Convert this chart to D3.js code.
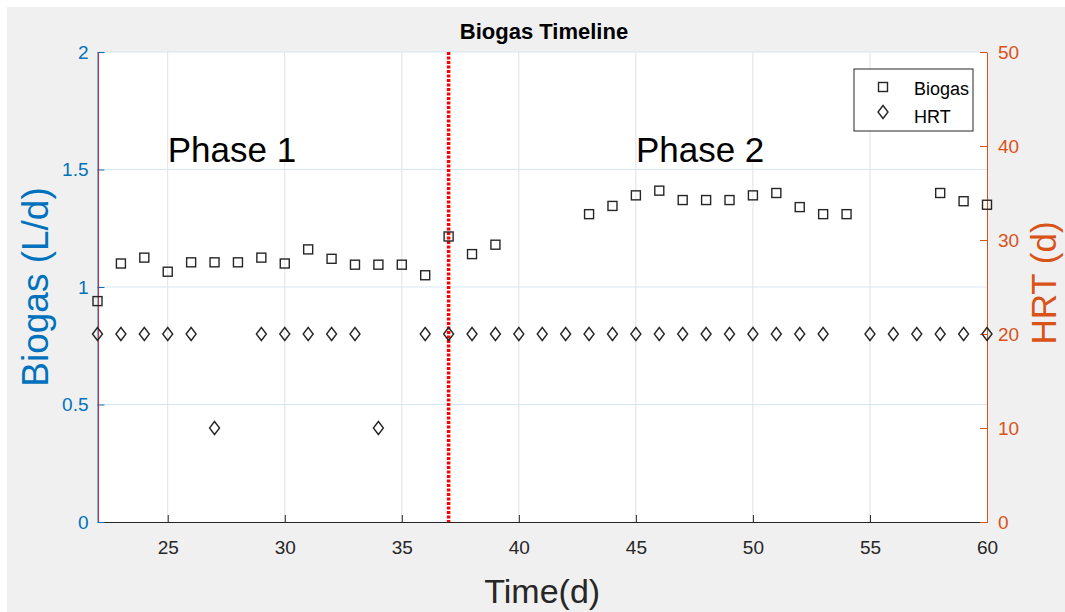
<!DOCTYPE html>
<html>
<head>
<meta charset="utf-8">
<script src="https://cdn.jsdelivr.net/npm/d3@7"></script>
<style>
  body { margin: 0; background: #ffffff; }
  svg text { font-family: "Liberation Sans", Arial, Helvetica, sans-serif; }
</style>
</head>
<body>
<svg id="chart" width="1065" height="612"></svg>
<script>
// days on the x axis
const days = d3.range(22, 61);

// biogas production (L/d), null where no measurement
const biogas = [0.94, 1.10, 1.125, 1.065, 1.105, 1.105, 1.105, 1.125, 1.10, 1.16,
  1.12, 1.095, 1.095, 1.095, 1.05, 1.215, 1.14, 1.18, null, null,
  null, 1.31, 1.345, 1.39, 1.41, 1.37, 1.37, 1.37, 1.39, 1.40,
  1.34, 1.31, 1.31, null, null, null, 1.40, 1.365, 1.35];

// hydraulic retention time (d)
const hrt = [20, 20, 20, 20, 20, 10, null, 20, 20, 20,
  20, 20, 10, null, 20, 20, 20, 20, 20, 20,
  20, 20, 20, 20, 20, 20, 20, 20, 20, 20,
  20, 20, null, 20, 20, 20, 20, 20, 20];

const xTicks = [25, 30, 35, 40, 45, 50, 55, 60];
const leftTicks = [0, 0.5, 1, 1.5, 2];
const rightTicks = [0, 10, 20, 30, 40, 50];

const phaseLine = 37;
const phases = [
  {label: "Phase 1", day: 25, value: 1.53},
  {label: "Phase 2", day: 45, value: 1.53}
];

const blue = "#0072BD";
const orange = "#D95319";
const dark = "#262626";

const svg = d3.select("#chart");
const plotLeft = 97.5, plotRight = 987, plotTop = 52, plotBottom = 522;

const x = d3.scaleLinear().domain([22, 60]).range([plotLeft, plotRight]);
const yL = d3.scaleLinear().domain([0, 2]).range([plotBottom, plotTop]);
const yR = d3.scaleLinear().domain([0, 50]).range([plotBottom, plotTop]);

// figure background
svg.append("rect").attr("x", 7).attr("y", 7).attr("width", 1058).attr("height", 605).attr("fill", "#f0f0f0");
svg.append("rect").attr("x", plotLeft).attr("y", plotTop)
  .attr("width", plotRight - plotLeft).attr("height", plotBottom - plotTop).attr("fill", "#ffffff");

// grid
svg.append("g").selectAll("line")
  .data(xTicks.filter(d => d < 60))
  .join("line")
  .attr("x1", d => x(d)).attr("x2", d => x(d))
  .attr("y1", plotTop).attr("y2", plotBottom)
  .attr("stroke", "#dde1e6").attr("stroke-width", 1);

svg.append("g").selectAll("line")
  .data(leftTicks.filter(d => d > 0))
  .join("line")
  .attr("x1", plotLeft).attr("x2", plotRight)
  .attr("y1", d => yL(d)).attr("y2", d => yL(d))
  .attr("stroke", "#d5e6f5").attr("stroke-width", 1);

// axes
const xAxis = svg.append("g")
  .attr("transform", "translate(0," + plotBottom + ")")
  .call(d3.axisBottom(x).tickValues(xTicks).tickSizeInner(-7).tickSizeOuter(0).tickPadding(19));
xAxis.select(".domain").attr("stroke", dark);
xAxis.selectAll(".tick line").attr("stroke", dark);
xAxis.selectAll("text").attr("fill", dark).attr("font-size", 19);

const leftAxis = svg.append("g")
  .attr("transform", "translate(" + plotLeft + ",0)")
  .call(d3.axisLeft(yL).tickValues(leftTicks).tickFormat(d3.format("")).tickSizeInner(-7).tickSizeOuter(0).tickPadding(9));
leftAxis.select(".domain").attr("stroke", blue);
leftAxis.selectAll(".tick line").attr("stroke", blue);
leftAxis.selectAll("text").attr("fill", blue).attr("font-size", 19);

const rightAxis = svg.append("g")
  .attr("transform", "translate(" + plotRight + ",0)")
  .call(d3.axisRight(yR).tickValues(rightTicks).tickSizeInner(-7).tickSizeOuter(0).tickPadding(11));
rightAxis.select(".domain").attr("stroke", orange);
rightAxis.selectAll(".tick line").attr("stroke", orange);
rightAxis.selectAll("text").attr("fill", orange).attr("font-size", 19);

// red phase lines
svg.append("line")
  .attr("x1", x(22) + 1).attr("x2", x(22) + 1)
  .attr("y1", plotTop).attr("y2", plotBottom)
  .attr("stroke", "#ff0000").attr("stroke-width", 0.8);

svg.append("line")
  .attr("x1", x(phaseLine)).attr("x2", x(phaseLine))
  .attr("y1", plotTop).attr("y2", plotBottom)
  .attr("stroke", "#ff0000").attr("stroke-width", 3.5)
  .attr("stroke-dasharray", "3,1.5");

// markers
const biogasPts = days.map((d, i) => ({day: d, v: biogas[i]})).filter(d => d.v !== null);
const hrtPts = days.map((d, i) => ({day: d, v: hrt[i]})).filter(d => d.v !== null);

svg.append("g").selectAll("rect")
  .data(biogasPts)
  .join("rect")
  .attr("x", d => x(d.day) - 4.5)
  .attr("y", d => yL(d.v) - 4.5)
  .attr("width", 9).attr("height", 9)
  .attr("fill", "none").attr("stroke", dark).attr("stroke-width", 1.4);

const diamond = (cx, cy) => "M" + cx + "," + (cy - 6.5) + "L" + (cx + 5) + "," + cy +
  "L" + cx + "," + (cy + 6.5) + "L" + (cx - 5) + "," + cy + "Z";

svg.append("g").selectAll("path")
  .data(hrtPts)
  .join("path")
  .attr("d", d => diamond(x(d.day), yR(d.v)))
  .attr("fill", "none").attr("stroke", dark).attr("stroke-width", 1.4);

// phase labels
svg.append("g").selectAll("text")
  .data(phases)
  .join("text")
  .attr("x", d => x(d.day))
  .attr("y", d => yL(d.value))
  .attr("font-size", 35)
  .attr("fill", "#000")
  .text(d => d.label);

// title and axis labels
svg.append("text")
  .attr("x", 544).attr("y", 39)
  .attr("text-anchor", "middle")
  .attr("font-size", 22).attr("font-weight", "bold").attr("fill", "#000")
  .text("Biogas Timeline");

svg.append("text")
  .attr("x", (plotLeft + plotRight) / 2).attr("y", 603)
  .attr("text-anchor", "middle")
  .attr("font-size", 34).attr("fill", dark)
  .text("Time(d)");

svg.append("text")
  .attr("transform", "translate(48," + ((plotTop + plotBottom) / 2) + ") rotate(-90)")
  .attr("text-anchor", "middle")
  .attr("font-size", 37).attr("fill", blue)
  .text("Biogas (L/d)");

svg.append("text")
  .attr("transform", "translate(1056," + ((plotTop + plotBottom) / 2 - 4) + ") rotate(-90)")
  .attr("text-anchor", "middle")
  .attr("font-size", 35).attr("fill", orange)
  .text("HRT (d)");

// legend
const legend = svg.append("g").attr("transform", "translate(854,69)");
legend.append("rect")
  .attr("width", 119).attr("height", 62)
  .attr("fill", "#ffffff").attr("stroke", dark).attr("stroke-width", 1);
legend.append("rect")
  .attr("x", 29 - 4.5).attr("y", 18 - 4.5).attr("width", 9).attr("height", 9)
  .attr("fill", "none").attr("stroke", dark).attr("stroke-width", 1.4);
legend.append("path")
  .attr("d", diamond(29, 43))
  .attr("fill", "none").attr("stroke", dark).attr("stroke-width", 1.4);
legend.append("text").attr("x", 60).attr("y", 26).attr("font-size", 18).attr("fill", "#000").text("Biogas");
legend.append("text").attr("x", 60).attr("y", 54).attr("font-size", 18).attr("fill", "#000").text("HRT");
</script>
</body>
</html>
